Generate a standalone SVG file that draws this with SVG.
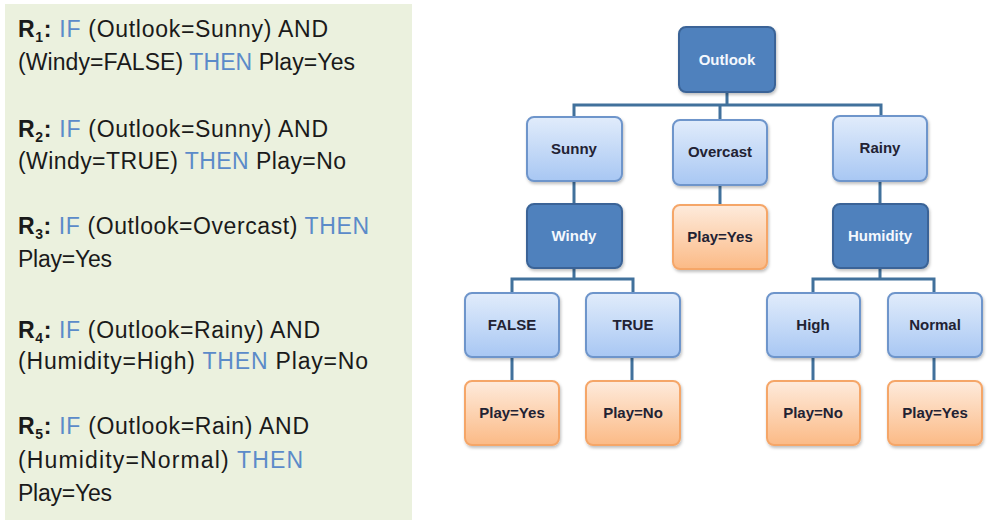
<svg xmlns="http://www.w3.org/2000/svg" width="997" height="523" viewBox="0 0 997 523">
<defs>
<linearGradient id="gBlue" x1="0" y1="0" x2="0" y2="1"><stop offset="0" stop-color="#E1ECFB"/><stop offset="1" stop-color="#A8C7F3"/></linearGradient>
<linearGradient id="gOrange" x1="0" y1="0" x2="0" y2="1"><stop offset="0" stop-color="#FEEBDC"/><stop offset="1" stop-color="#FBBA86"/></linearGradient>
<filter id="sh" x="-10%" y="-10%" width="125%" height="130%"><feDropShadow dx="1" dy="2" stdDeviation="1.5" flood-color="#000" flood-opacity="0.25"/></filter>
</defs>
<style>
.rule{font-family:"Liberation Sans",Arial,sans-serif;font-size:23px;fill:#1a1a1a}
.k{fill:#5B8BC9}
.r{font-weight:bold}
.sub{font-size:14px;font-weight:bold}
.dark rect{fill:#4F81BD;stroke:#3A6497;stroke-width:2;filter:url(#sh)}
.light rect{fill:url(#gBlue);stroke:#6E95CB;stroke-width:2;filter:url(#sh)}
.leaf rect{fill:url(#gOrange);stroke:#F5A668;stroke-width:2;filter:url(#sh)}
.nt{font-family:"Liberation Sans",Arial,sans-serif;font-size:15px;font-weight:bold;text-anchor:middle}
.dark .nt{fill:#F4F8FD}
.light .nt,.leaf .nt{fill:#222233}
#edges path{fill:none;stroke:#41719C;stroke-width:3}
</style>
<rect x="5" y="4" width="407" height="516" fill="#EBF1DE"/>
<g id="rules" class="rule">
<text x="18" y="37" textLength="310"><tspan class="r">R</tspan><tspan class="sub" dy="5">1</tspan><tspan class="r" dy="-5">:</tspan> <tspan class="k">IF</tspan> (Outlook=Sunny) AND</text>
<text x="18" y="70" textLength="337">(Windy=FALSE) <tspan class="k">THEN</tspan> Play=Yes</text>
<text x="18" y="137" textLength="310"><tspan class="r">R</tspan><tspan class="sub" dy="5">2</tspan><tspan class="r" dy="-5">:</tspan> <tspan class="k">IF</tspan> (Outlook=Sunny) AND</text>
<text x="18" y="169" textLength="328">(Windy=TRUE) <tspan class="k">THEN</tspan> Play=No</text>
<text x="18" y="234" textLength="351"><tspan class="r">R</tspan><tspan class="sub" dy="5">3</tspan><tspan class="r" dy="-5">:</tspan> <tspan class="k">IF</tspan> (Outlook=Overcast) <tspan class="k">THEN</tspan></text>
<text x="18" y="267" textLength="94">Play=Yes</text>
<text x="18" y="338" textLength="302"><tspan class="r">R</tspan><tspan class="sub" dy="5">4</tspan><tspan class="r" dy="-5">:</tspan> <tspan class="k">IF</tspan> (Outlook=Rainy) AND</text>
<text x="18" y="369" textLength="350">(Humidity=High) <tspan class="k">THEN</tspan> Play=No</text>
<text x="18" y="434" textLength="291"><tspan class="r">R</tspan><tspan class="sub" dy="5">5</tspan><tspan class="r" dy="-5">:</tspan> <tspan class="k">IF</tspan> (Outlook=Rain) AND</text>
<text x="18" y="468" textLength="285">(Humidity=Normal) <tspan class="k">THEN</tspan></text>
<text x="18" y="501" textLength="94">Play=Yes</text>
</g>
<g id="edges">
<path d="M727 92 V105 M574 117 V105 H881 V117 M720 105 V120"/>
<path d="M574 181 V204"/>
<path d="M720 185 V205"/>
<path d="M880 181 V204"/>
<path d="M574 268 V279 M512 293 V279 H633 V293"/>
<path d="M880 268 V279 M813 293 V279 H934 V293"/>
<path d="M512 357 V381 M632 357 V381 M813 357 V381 M934 357 V381"/>
</g>
<g id="outlook" class="dark"><rect x="679" y="27" width="96" height="65" rx="7"/><text class="nt" x="727" y="65">Outlook</text></g>
<g id="sunny" class="light"><rect x="527" y="117" width="95" height="64" rx="7"/><text class="nt" x="574" y="154">Sunny</text></g>
<g id="overcast" class="light"><rect x="673" y="120" width="94" height="65" rx="7"/><text class="nt" x="720" y="157">Overcast</text></g>
<g id="rainy" class="light"><rect x="833" y="116" width="94" height="65" rx="7"/><text class="nt" x="880" y="153">Rainy</text></g>
<g id="windy" class="dark"><rect x="527" y="204" width="95" height="64" rx="7"/><text class="nt" x="574" y="241">Windy</text></g>
<g id="overcast-yes" class="leaf"><rect x="673" y="205" width="94" height="64" rx="7"/><text class="nt" x="720" y="242">Play=Yes</text></g>
<g id="humidity" class="dark"><rect x="833" y="204" width="95" height="64" rx="7"/><text class="nt" x="880" y="241">Humidity</text></g>
<g id="false" class="light"><rect x="465" y="293" width="94" height="64" rx="7"/><text class="nt" x="512" y="330">FALSE</text></g>
<g id="true" class="light"><rect x="586" y="293" width="94" height="64" rx="7"/><text class="nt" x="633" y="330">TRUE</text></g>
<g id="high" class="light"><rect x="767" y="293" width="93" height="64" rx="7"/><text class="nt" x="813" y="330">High</text></g>
<g id="normal" class="light"><rect x="888" y="293" width="94" height="64" rx="7"/><text class="nt" x="935" y="330">Normal</text></g>
<g id="false-yes" class="leaf"><rect x="465" y="381" width="94" height="64" rx="7"/><text class="nt" x="512" y="418">Play=Yes</text></g>
<g id="true-no" class="leaf"><rect x="586" y="381" width="94" height="64" rx="7"/><text class="nt" x="633" y="418">Play=No</text></g>
<g id="high-no" class="leaf"><rect x="767" y="381" width="93" height="64" rx="7"/><text class="nt" x="813" y="418">Play=No</text></g>
<g id="normal-yes" class="leaf"><rect x="888" y="381" width="94" height="64" rx="7"/><text class="nt" x="935" y="418">Play=Yes</text></g>
</svg>
